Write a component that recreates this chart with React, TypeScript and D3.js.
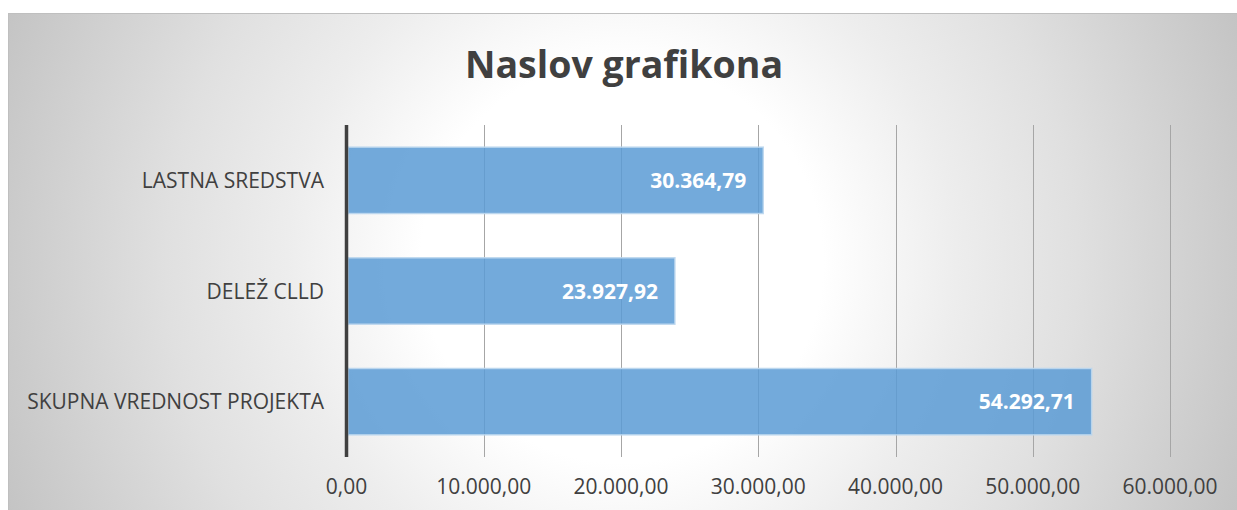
import React, { useEffect, useRef } from 'react'
import * as d3 from 'd3'

const categories = ['LASTNA SREDSTVA', 'DELEŽ CLLD', 'SKUPNA VREDNOST PROJEKTA']
const values = [30364.79, 23927.92, 54292.71]
const tickValues = [0, 10000, 20000, 30000, 40000, 50000, 60000]
const title = 'Naslov grafikona'

const fmt = (v: number, digits = 2) => {
    const parts = v.toFixed(digits).split('.')
    const int = parts[0].replace(/\B(?=(\d{3})+(?!\d))/g, '.')
    return int + ',' + parts[1]
}

function App() {
    const ref = useRef<SVGSVGElement>(null)

    useEffect(() => {
        const width = 1237
        const height = 510
        const margin = { top: 125, right: 67, bottom: 53, left: 346.5 }

        const svg = d3.select(ref.current)
        svg.selectAll('*').remove()

        // background gradient
        const defs = svg.append('defs')
        const grad = defs.append('radialGradient')
            .attr('id', 'bg')
            .attr('gradientUnits', 'userSpaceOnUse')
            .attr('cx', 622).attr('cy', 262).attr('r', 670)
        grad.append('stop').attr('offset', 0.3).attr('stop-color', '#ffffff')
        grad.append('stop').attr('offset', 0.5).attr('stop-color', '#ededed')
        grad.append('stop').attr('offset', 0.68).attr('stop-color', '#e0e0e0')
        grad.append('stop').attr('offset', 1).attr('stop-color', '#c3c3c3')

        svg.append('rect')
            .attr('x', 8.5).attr('y', 13.5)
            .attr('width', 1240).attr('height', 520)
            .attr('fill', 'url(#bg)')
            .attr('stroke', '#bfbfbf')
            .attr('stroke-width', 1)

        const x = d3.scaleLinear()
            .domain([0, 60000])
            .range([margin.left, width - margin.right])

        const y = d3.scaleBand()
            .domain(categories)
            .range([margin.top, height - margin.bottom])
            .paddingInner(0.4)
            .paddingOuter(0.2)

        // gridlines
        svg.append('g')
            .selectAll('line')
            .data(tickValues.slice(1))
            .join('line')
            .attr('x1', d => Math.round(x(d)) + 0.5)
            .attr('x2', d => Math.round(x(d)) + 0.5)
            .attr('y1', margin.top)
            .attr('y2', height - margin.bottom)
            .attr('stroke', '#a6a6a6')
            .attr('stroke-width', 1)

        // bars
        svg.append('g')
            .selectAll('rect')
            .data(values)
            .join('rect')
            .attr('x', x(0) + 1.5)
            .attr('y', (d, i) => y(categories[i])!)
            .attr('width', d => x(d) - x(0) - 1.5)
            .attr('height', y.bandwidth())
            .attr('fill', 'rgba(91,155,213,0.85)')
            .attr('stroke', 'rgba(189,215,238,0.9)')
            .attr('stroke-width', 1.5)

        // value labels
        svg.append('g')
            .selectAll('text')
            .data(values)
            .join('text')
            .attr('x', d => x(d) - 17)
            .attr('y', (d, i) => y(categories[i])! + y.bandwidth() / 2)
            .attr('dy', '0.36em')
            .attr('text-anchor', 'end')
            .attr('fill', '#ffffff')
            .style('font-family', '"Open Sans", sans-serif')
            .style('font-weight', 700)
            .style('font-size', '21px')
            .text(d => fmt(d))

        // y axis line
        svg.append('line')
            .attr('x1', x(0)).attr('x2', x(0))
            .attr('y1', margin.top).attr('y2', height - margin.bottom)
            .attr('stroke', '#404040')
            .attr('stroke-width', 3.5)

        // category labels
        svg.append('g')
            .selectAll('text')
            .data(categories)
            .join('text')
            .attr('x', 324)
            .attr('y', d => y(d)! + y.bandwidth() / 2)
            .attr('dy', '0.36em')
            .attr('text-anchor', 'end')
            .attr('fill', '#404040')
            .style('font-family', '"Open Sans", sans-serif')
            .style('font-size', '21px')
            .text(d => d)

        // tick labels
        svg.append('g')
            .selectAll('text')
            .data(tickValues)
            .join('text')
            .attr('x', d => x(d))
            .attr('y', 494)
            .attr('text-anchor', 'middle')
            .attr('fill', '#404040')
            .style('font-family', '"Open Sans", sans-serif')
            .style('font-size', '21px')
            .text(d => fmt(d))

        // title
        svg.append('text')
            .attr('x', 624)
            .attr('y', 78)
            .attr('text-anchor', 'middle')
            .attr('fill', '#404040')
            .style('font-family', '"Open Sans", sans-serif')
            .style('font-weight', 700)
            .style('font-size', '37.5px')
            .text(title)
    }, [])

    return (
        <svg ref={ref} width={1237} height={510}
            style={{ position: 'absolute', left: 0, top: 0, background: '#ffffff' }} />
    )
}

export default App
